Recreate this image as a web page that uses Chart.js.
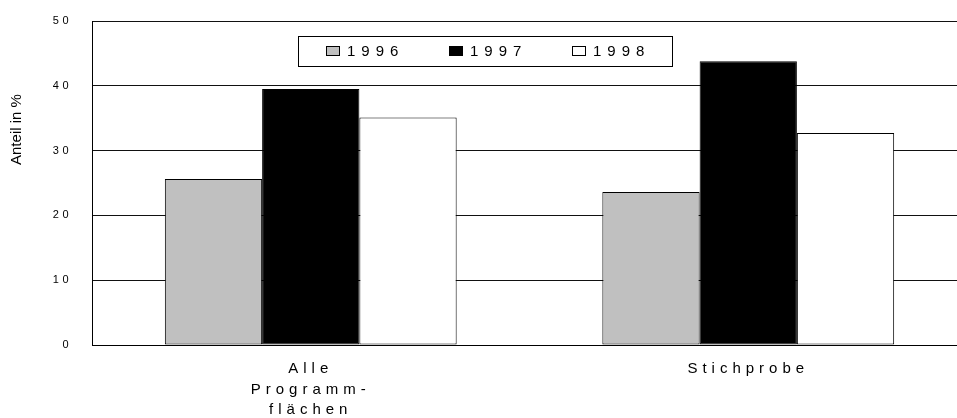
<!DOCTYPE html>
<html>
<head>
<meta charset="utf-8">
<script src="https://cdn.jsdelivr.net/npm/chart.js@4/dist/chart.umd.min.js"></script>
<style>
  html, body { margin: 0; padding: 0; background: #fff; overflow: hidden; }
  #wrap { position: relative; width: 975px; height: 418px; }
</style>
</head>
<body>
<div id="wrap"><canvas id="c"></canvas></div>
<script>
// Categories (multi-line labels) and yearly shares in percent
const categories = [['Alle', 'Programm-', 'flächen'], 'Stichprobe'];
const years = ['1996', '1997', '1998'];
const values1996 = [25.6, 23.6];
const values1997 = [39.5, 43.8];
const values1998 = [35.1, 32.7];
const yTicks = [0, 10, 20, 30, 40, 50];
const axisTitle = 'Anteil in %';

const FONT = '"Liberation Sans", Arial, sans-serif';
const fills = ['#c0c0c0', '#000000', '#ffffff'];

// Wraps a scale's label drawing so its tick text gets extra letter spacing
function spacedLabels(px) {
  return function (scale) {
    if (scale.$spaced) return;
    scale.$spaced = true;
    const base = scale.drawLabels;
    scale.drawLabels = function (area) {
      const ctx = this.ctx;
      const prev = ctx.letterSpacing;
      ctx.letterSpacing = px + 'px';
      base.call(this, area);
      ctx.letterSpacing = prev || '0px';
    };
  };
}

// Rotated y-axis caption
const yCaption = {
  id: 'yCaption',
  afterDraw(chart) {
    const { ctx, chartArea } = chart;
    ctx.save();
    ctx.font = '15px ' + FONT;
    ctx.fillStyle = '#000';
    ctx.textAlign = 'center';
    ctx.textBaseline = 'middle';
    ctx.translate(17, chartArea.top + chartArea.height * 0.335);
    ctx.rotate(-Math.PI / 2);
    ctx.fillText(axisTitle, 0, 0);
    ctx.restore();
  }
};

// Framed legend inside the plot area
const boxLegend = {
  id: 'boxLegend',
  afterDraw(chart) {
    const ctx = chart.ctx;
    const box = { x: 298, y: 36, w: 374, h: 30 };
    ctx.save();
    ctx.fillStyle = '#fff';
    ctx.fillRect(box.x, box.y, box.w, box.h);
    ctx.strokeStyle = '#000';
    ctx.lineWidth = 1;
    ctx.strokeRect(box.x + 0.5, box.y + 0.5, box.w, box.h);
    ctx.font = '15px ' + FONT;
    ctx.letterSpacing = '6px';
    ctx.textAlign = 'left';
    ctx.textBaseline = 'middle';
    chart.data.datasets.forEach((ds, i) => {
      const sx = 326 + i * 123;
      const cy = box.y + box.h / 2;
      ctx.fillStyle = ds.backgroundColor;
      ctx.fillRect(sx + 0.5, cy - 4.5, 13, 9);
      ctx.strokeStyle = '#000';
      ctx.strokeRect(sx + 0.5, cy - 4.5, 13, 9);
      ctx.fillStyle = '#000';
      ctx.fillText(ds.label, sx + 21, cy + 0.5);
    });
    ctx.restore();
  }
};

const seriesValues = [values1996, values1997, values1998];

new Chart(document.getElementById('c'), {
  type: 'bar',
  data: {
    labels: categories,
    datasets: years.map((y, i) => ({
      label: y,
      data: seriesValues[i],
      backgroundColor: fills[i],
      borderColor: '#000',
      borderWidth: 1,
      borderSkipped: false,
      categoryPercentage: 0.667,
      barPercentage: 1.0
    }))
  },
  options: {
    responsive: true,
    maintainAspectRatio: false,
    animation: false,
    layout: { padding: { top: 21, right: 8, left: 0, bottom: 0 } },
    plugins: {
      legend: { display: false },
      tooltip: { enabled: false }
    },
    scales: {
      x: {
        grid: { display: false, drawTicks: false },
        border: { display: true, color: '#000', width: 1 },
        ticks: {
          color: '#000',
          font: { family: FONT, size: 15, lineHeight: 1.36 },
          padding: 14,
          maxRotation: 0,
          autoSkip: false
        },
        afterFit(s) { s.height = 73; s.paddingLeft = 0; s.paddingRight = 0; },
        afterUpdate: spacedLabels(5)
      },
      y: {
        min: 0,
        max: 50,
        afterBuildTicks(s) { s.ticks = yTicks.map(v => ({ value: v })); },
        grid: { color: '#111', lineWidth: 1, drawTicks: false },
        border: { display: true, color: '#000', width: 1 },
        ticks: {
          color: '#000',
          font: { family: FONT, size: 11 },
          padding: 20
        },
        afterFit(s) { s.width = 92; s.paddingTop = 0; s.paddingBottom = 0; },
        afterUpdate: spacedLabels(3.5)
      }
    }
  },
  plugins: [yCaption, boxLegend]
});
</script>
</body>
</html>
